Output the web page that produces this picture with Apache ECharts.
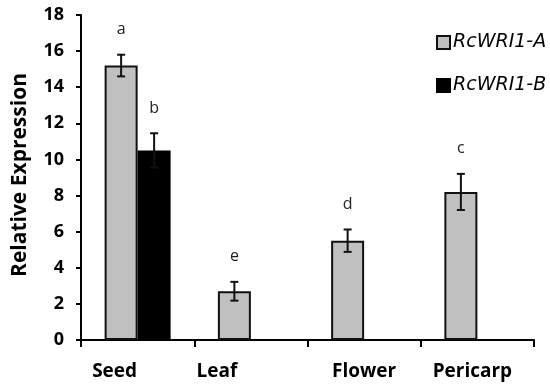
<!DOCTYPE html>
<html><head><meta charset="utf-8">
<script src="https://cdn.jsdelivr.net/npm/echarts@6/dist/echarts.min.js"></script>
<style>html,body{margin:0;padding:0;background:#fff}#c{width:550px;height:388px}</style>
</head><body><div id="c"></div>
<script>
var categories = ['Seed', 'Leaf', 'Flower', 'Pericarp'];
var seriesNames = ['RcWRI1-A', 'RcWRI1-B'];
var valuesA = [15.2, 2.7, 5.5, 8.2];
var valuesB = [10.5, null, null, null];
var errorsA = [0.6, 0.52, 0.62, 1.0];
var errorsB = [0.95, null, null, null];
var lettersA = ['a', 'e', 'd', 'c'];
var lettersB = ['b', '', '', ''];
var yMin = 0, yMax = 18, yStep = 2;

var FONT = 'Open Sans';
var BAR_W = 33;
var labelShift = {Seed: -23, Leaf: -34, Flower: 0, Pericarp: -5};

function errSeries(vals, errs, letters, side) {
  var data = vals.map(function (v, i) { return [i, v, errs[i], letters[i]]; })
                 .filter(function (d) { return d[1] != null; });
  return {
    type: 'custom', z: 10, silent: true,
    data: data,
    renderItem: function (params, api) {
      var i = api.value(0), v = api.value(1), e = api.value(2);
      var letter = data[params.dataIndex][3];
      var top = api.coord([i, v + e]);
      var bot = api.coord([i, v - e]);
      var x = top[0] + side * BAR_W / 2;
      var cap = 4;
      var st = {stroke: '#111', lineWidth: 2};
      return {
        type: 'group',
        children: [
          {type: 'line', shape: {x1: x, y1: top[1], x2: x, y2: bot[1]}, style: st},
          {type: 'line', shape: {x1: x - cap, y1: top[1], x2: x + cap, y2: top[1]}, style: st},
          {type: 'line', shape: {x1: x - cap, y1: bot[1], x2: x + cap, y2: bot[1]}, style: st},
          {type: 'text', style: {text: letter, x: x, y: top[1] - 25, align: 'center', verticalAlign: 'middle',
            font: '16px "' + FONT + '"', fill: '#222'}}
        ]
      };
    }
  };
}

var chart = echarts.init(document.getElementById('c'), null, {renderer: 'canvas'});
chart.setOption({
  animation: false,
  backgroundColor: '#fff',
  grid: {left: 81, right: 16, top: 15, bottom: 48, containLabel: false},
  legend: {
    orient: 'vertical', left: 431, top: 28,
    itemWidth: 13, itemHeight: 13, itemGap: 24,
    icon: 'rect',
    data: seriesNames,
    textStyle: {fontFamily: 'DejaVu Sans', fontSize: 19, fontStyle: 'italic', color: '#000', padding: [0, 0, 0, -2]}
  },
  xAxis: {
    type: 'category', data: categories,
    axisLine: {lineStyle: {color: '#000', width: 2}},
    axisTick: {show: true, alignWithLabel: false, length: 7, lineStyle: {color: '#000', width: 2}},
    axisLabel: {
      interval: 0, hideOverlap: false,
      margin: 22, color: '#000',
      formatter: function (v) { return '{' + v + '|' + v + '}'; },
      rich: (function () {
        var r = {};
        categories.forEach(function (c) {
          var s = labelShift[c] || 0;
          r[c] = {fontFamily: FONT, fontWeight: 'bold', fontSize: 19, color: '#000',
                  padding: s < 0 ? [0, -2 * s, 0, 0] : [0, 0, 0, 2 * s]};
        });
        return r;
      })()
    }
  },
  yAxis: {
    type: 'value', min: yMin, max: yMax, interval: yStep,
    splitLine: {show: false},
    axisLine: {show: true, lineStyle: {color: '#000', width: 2}},
    axisTick: {show: true, length: 5, lineStyle: {color: '#000', width: 2}},
    axisLabel: {margin: 17, fontFamily: FONT, fontWeight: 'bold', fontSize: 18, color: '#000'}
  },
  graphic: [{
    type: 'text', x: 20, y: 175, rotation: Math.PI / 2,
    style: {text: 'Relative Expression', font: 'bold 21px "' + FONT + '"', fill: '#000',
            align: 'center', verticalAlign: 'middle'}
  }],
  series: [
    {name: seriesNames[0], type: 'bar', data: valuesA, barWidth: BAR_W, barGap: '0%',
     itemStyle: {color: '#c0c0c0', borderColor: '#111', borderWidth: 2}},
    {name: seriesNames[1], type: 'bar', data: valuesB, barWidth: BAR_W, barGap: '0%',
     itemStyle: {color: '#000', borderColor: '#000', borderWidth: 2}},
    errSeries(valuesA, errorsA, lettersA, -1),
    errSeries(valuesB, errorsB, lettersB, 1)
  ]
});
</script></body></html>
